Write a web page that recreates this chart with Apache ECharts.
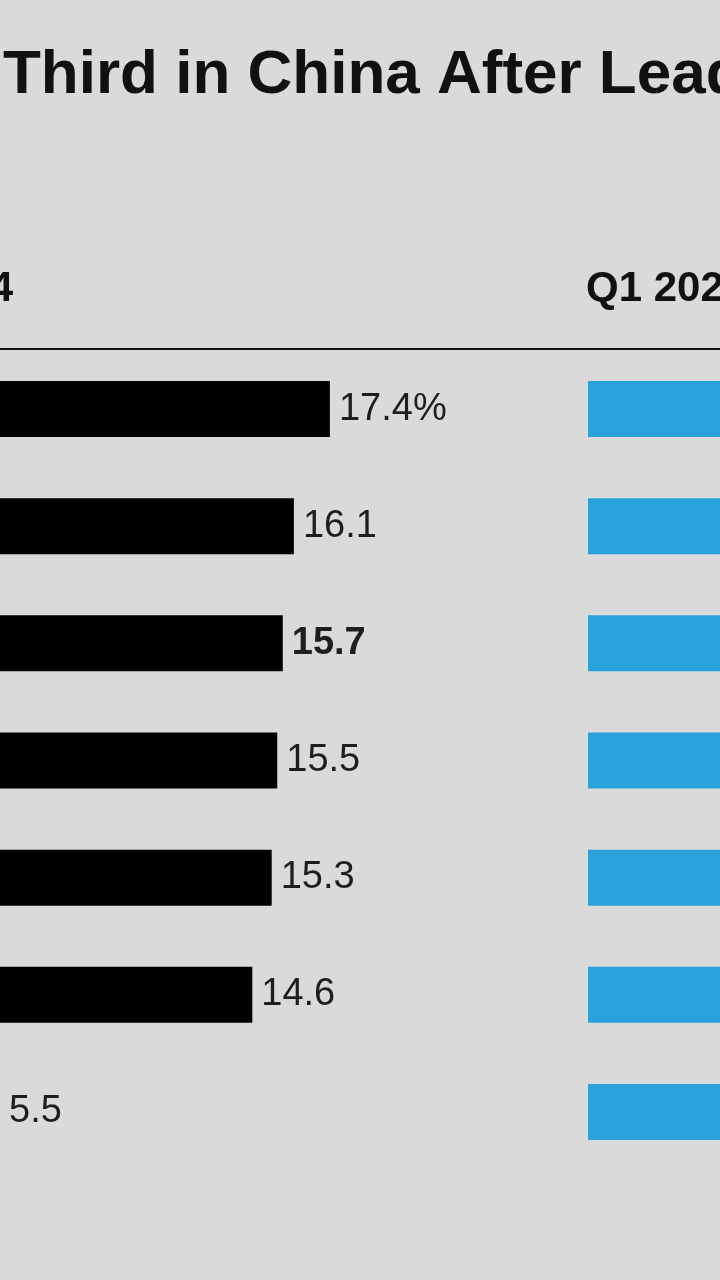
<!DOCTYPE html>
<html>
<head>
<meta charset="utf-8">
<script src="https://cdn.jsdelivr.net/npm/echarts@6/dist/echarts.min.js"></script>
<style>
html,body{margin:0;padding:0;background:#dadada;}
#chart{width:720px;height:1280px;}
</style>
</head>
<body>
<div id="chart"></div>
<script>
const titleText = 'Third in China After Leading';
const headerLeft = 'Q1 2024';
const headerRight = 'Q1 2023';
const categories = ['Vivo', 'Honor', 'Apple', 'Huawei', 'Oppo', 'Xiaomi', 'Others'];
const valuesQ1_2024 = [17.4, 16.1, 15.7, 15.5, 15.3, 14.6, 5.5];
const valuesQ1_2023 = [17.9, 16.8, 19.7, 9.3, 18.6, 12.6, 6.0];
const highlight = 'Apple';

const chart = echarts.init(document.getElementById('chart'));
const FONT = '"Liberation Sans", Arial, Helvetica, sans-serif';

const leftData = valuesQ1_2024.map((v, i) => ({
  value: v,
  label: {
    formatter: i === 0 ? v.toFixed(1) + '%' : v.toFixed(1),
    fontWeight: categories[i] === highlight ? 'bold' : 'normal'
  }
}));

chart.setOption({
  backgroundColor: '#dadada',
  animation: false,
  grid: [
    {left: 0, top: 350.5, width: 402, height: 820},
    {left: 588, top: 350.5, right: 0, height: 820}
  ],
  xAxis: [
    {gridIndex: 0, type: 'value', min: 5.5, max: 20, show: false},
    {gridIndex: 1, type: 'value', min: 0, max: 4.5, show: false}
  ],
  yAxis: [
    {gridIndex: 0, type: 'category', data: categories, inverse: true,
     axisLine: {show: false}, axisTick: {show: false}, axisLabel: {show: false}},
    {gridIndex: 1, type: 'category', data: categories, inverse: true,
     axisLine: {show: false}, axisTick: {show: false}, axisLabel: {show: false}}
  ],
  series: [
    {
      type: 'bar', xAxisIndex: 0, yAxisIndex: 0, data: leftData,
      barWidth: 56, itemStyle: {color: '#000000'},
      label: {show: true, position: 'right', distance: 9,
              color: '#1e1e1e', fontSize: 38, fontFamily: FONT}
    },
    {
      type: 'bar', xAxisIndex: 1, yAxisIndex: 1, data: valuesQ1_2023,
      barWidth: 56, clip: true, itemStyle: {color: '#29a2dc'}
    }
  ],
  graphic: [
    {type: 'text', style: {
      text: titleText, x: 3, y: 76, fontSize: 62, fontWeight: 'bold', fontFamily: FONT,
      fill: '#111111', align: 'left', verticalAlign: 'middle'}},
    {type: 'text', style: {
      text: headerLeft, x: 13, y: 289, fontSize: 42, fontWeight: 'bold', fontFamily: FONT,
      fill: '#111111', align: 'right', verticalAlign: 'middle'}},
    {type: 'text', style: {
      text: headerRight, x: 586, y: 289, fontSize: 42, fontWeight: 'bold', fontFamily: FONT,
      fill: '#111111', align: 'left', verticalAlign: 'middle'}},
    {type: 'line', shape: {x1: 0, y1: 349, x2: 720, y2: 349},
     style: {stroke: '#111111', lineWidth: 2}}
  ]
});
</script>
</body>
</html>
